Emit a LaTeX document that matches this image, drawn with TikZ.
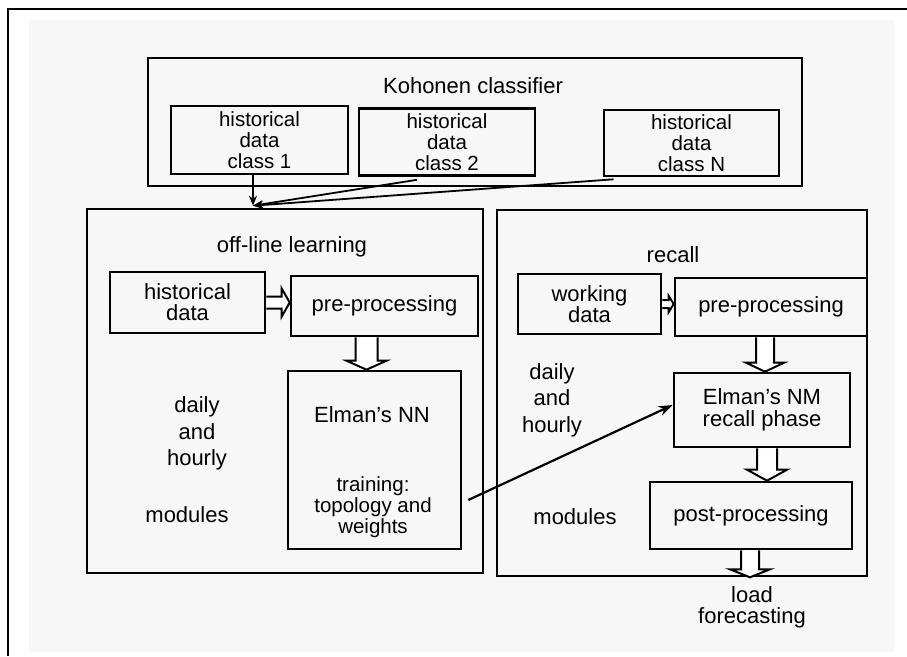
\documentclass[tikz,border=0pt]{standalone}
\usepackage{fontspec}
\setmainfont{Liberation Sans}
\usetikzlibrary{calc,arrows.meta}
\definecolor{paper}{HTML}{F7F7F7}

\tikzset{
  % sizes of the hollow block arrows
  ba/shaft/.initial=10pt,
  ba/head/.initial=20pt,
  ba/len/.initial=10pt,
  box/.style={draw, line width=2.6pt, inner sep=0pt, align=center},
  lbl/.style={inner sep=0pt, align=center},
  tight/.style={font=\fontsize{20.5}{21}\selectfont},
  % hollow block arrow pointing down, drawn at the x of its start
  blockdown/.style={draw, line width=2pt, fill=white,
    to path={let \p1=(\tikztostart), \p2=(\tikztotarget) in
      (\x1-\pgfkeysvalueof{/tikz/ba/shaft},\y1)
      -- (\x1-\pgfkeysvalueof{/tikz/ba/shaft},\y2+\pgfkeysvalueof{/tikz/ba/len})
      -- (\x1-\pgfkeysvalueof{/tikz/ba/head},\y2+\pgfkeysvalueof{/tikz/ba/len})
      -- (\x1,\y2)
      -- (\x1+\pgfkeysvalueof{/tikz/ba/head},\y2+\pgfkeysvalueof{/tikz/ba/len})
      -- (\x1+\pgfkeysvalueof{/tikz/ba/shaft},\y2+\pgfkeysvalueof{/tikz/ba/len})
      -- (\x1+\pgfkeysvalueof{/tikz/ba/shaft},\y1)}},
  % hollow block arrow pointing right, drawn at the y of its start
  blockright/.style={draw, line width=2pt, fill=white,
    to path={let \p1=(\tikztostart), \p2=(\tikztotarget) in
      (\x1,\y1+\pgfkeysvalueof{/tikz/ba/shaft})
      -- (\x2-\pgfkeysvalueof{/tikz/ba/len},\y1+\pgfkeysvalueof{/tikz/ba/shaft})
      -- (\x2-\pgfkeysvalueof{/tikz/ba/len},\y1+\pgfkeysvalueof{/tikz/ba/head})
      -- (\x2,\y1)
      -- (\x2-\pgfkeysvalueof{/tikz/ba/len},\y1-\pgfkeysvalueof{/tikz/ba/head})
      -- (\x2-\pgfkeysvalueof{/tikz/ba/len},\y1-\pgfkeysvalueof{/tikz/ba/shaft})
      -- (\x1,\y1-\pgfkeysvalueof{/tikz/ba/shaft})}},
  feed/.style={line width=1.8pt, -{Stealth[length=10pt,width=8pt]}}
}

\begin{document}
\begin{tikzpicture}[x=1pt, y=-1pt, font=\fontsize{22}{21}\selectfont]
  \useasboundingbox (0,0) rectangle (907,656);
  \fill[white] (0,0) rectangle (907,656);
  \fill[paper] (29,20) rectangle (895,652);
  % frame of the page
  \draw[line width=2pt] (8,656) -- (8,9) -- (907,9);

  % Kohonen classifier and its classes
  \node[box, minimum width=654pt, minimum height=128pt] (koh) at (475,122) {};
  \node[lbl] (kohlbl) at (473,86) {Kohonen classifier};
  \node[box, tight, minimum width=177pt, minimum height=68pt] (class1) at (259.5,140) {historical\\data\\class 1};
  \node[box, tight, minimum width=176pt, minimum height=67pt] (class2) at (447,142) {historical\\data\\class 2};
  \node[box, tight, minimum width=175pt, minimum height=66pt] (classN) at (691.5,143) {historical\\data\\class N};

  % off-line learning
  \node[box, minimum width=396pt, minimum height=364pt] (offline) at (285,391) {};
  \node[lbl] (offlbl) at (292,247) {off-line learning};
  \node[box, minimum width=155pt, minimum height=61pt] (hist) at (187.5,302.5) {historical\\data};
  \node[box, minimum width=187pt, minimum height=60pt] (pre1) at (384.5,306) {pre-processing};
  \node[box, minimum width=173pt, minimum height=178pt] (nn) at (374.5,460) {};
  \node[lbl] (nntitle) at (372,415) {Elman's NN};
  \node[lbl, tight] (nntrain) at (373,507.5) {training:\\topology and\\weights};
  \node[lbl, font=\fontsize{22}{26.5}\selectfont] (offdaily) at (197,433.5) {daily\\and\\hourly};
  \node[lbl] (offmod) at (187,515) {modules};

  % recall
  \node[box, minimum width=370pt, minimum height=366pt] (recall) at (682,393) {};
  \node[lbl] (reclbl) at (673,255) {recall};
  \node[box, minimum width=143pt, minimum height=60pt] (work) at (589.5,304) {working\\data};
  \node[box, minimum width=192pt, minimum height=58pt] (pre2) at (771,307) {pre-processing};
  \node[box, minimum width=176pt, minimum height=74pt, font=\fontsize{22}{22}\selectfont] (nm) at (762,410) {Elman's NM\\recall phase};
  \node[box, minimum width=202pt, minimum height=67pt] (post) at (751,515.5) {post-processing};
  \node[lbl, font=\fontsize{22}{26.5}\selectfont] (recdaily) at (552,400) {daily\\and\\hourly};
  \node[lbl] (recmod) at (575,517) {modules};
  \node[lbl, font=\fontsize{22}{21.5}\selectfont] (load) at (752,607.5) {load\\forecasting};

  % classes feeding the learning block
  \coordinate (merge) at ($(offline.north -| class1.south)+(-6.5,-2)$);
  \draw[feed] ($(class1.south)+(-6.5,0)$) -- (merge);
  \draw[feed] ($(class2.south)+(-30,3)$) -- (merge);
  \draw[feed] ($(classN.south)+(-78,2)$) -- (merge);

  % flow inside off-line learning
  \draw[blockright, ba/shaft=6pt, ba/head=14pt, ba/len=8pt] (hist.east) to (pre1.west);
  \draw[blockdown, ba/shaft=11pt, ba/head=20pt, ba/len=9pt] ($(pre1.south)+(-18,0)$) to (nn.north);

  % flow inside recall
  \draw[blockright, ba/shaft=4pt, ba/head=8pt, ba/len=5pt] (work.east) to (pre2.west);
  \draw[blockdown, ba/shaft=9pt, ba/head=19pt, ba/len=9pt] ($(pre2.south)+(-6,0)$) to (nm.north);
  \draw[blockdown, ba/shaft=10pt, ba/head=20pt, ba/len=11pt] ($(nm.south)+(5,0)$) to (post.north);
  \coordinate (out) at (post.south |- recall.south);
  \draw[blockdown, ba/shaft=9pt, ba/head=20pt, ba/len=8pt] ($(post.south)+(-1,0)$) to (out);

  % trained weights passed to the recall network
  \draw[line width=2.2pt, -{Stealth[length=14pt,width=10pt]}] ($(nn.east)+(6,40)$) -- ($(nm.west)+(0,-5)$);
\end{tikzpicture}
\end{document}
